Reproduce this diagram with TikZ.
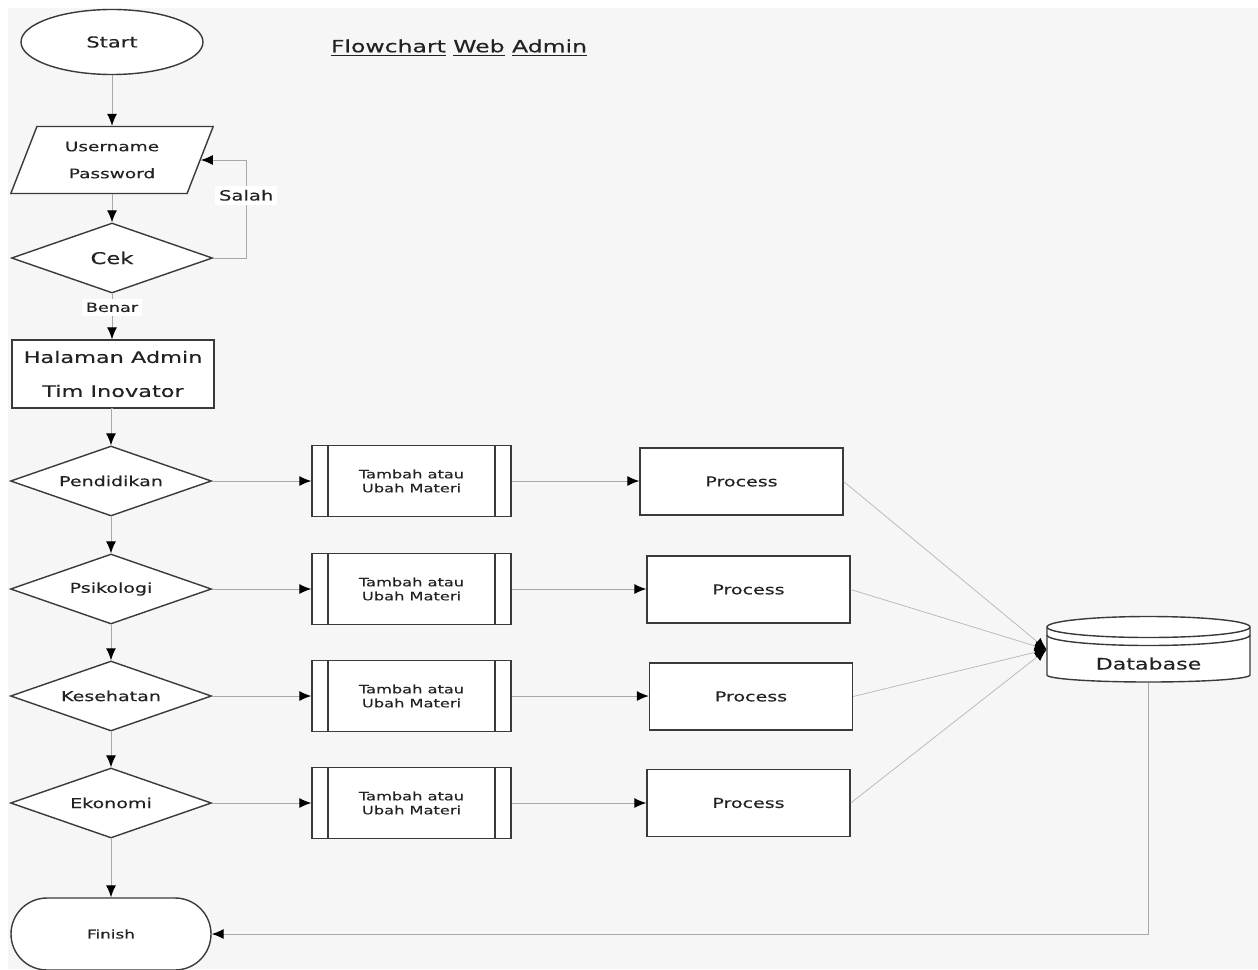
\documentclass[tikz,border=0pt]{standalone}
\usepackage{fontspec}
\setmainfont{DejaVu Sans}[FakeStretch=1.4,FakeBold=0.3]
\usepackage{tikz}
\usetikzlibrary{arrows.meta,shapes.geometric,shapes.misc}
\definecolor{bggrey}{RGB}{246,246,246}
\definecolor{edge}{RGB}{58,58,58}
\definecolor{wire}{RGB}{168,168,168}
\definecolor{ink}{RGB}{34,34,34}
\tikzset{
  shp/.style  ={draw=edge, fill=white, line width=0.7pt, text=ink, align=center, inner sep=0pt},
  term/.style ={shp, ellipse, minimum width=91pt, minimum height=32.5pt, font=\fontsize{7.5}{9}\selectfont},
  endt/.style ={shp, rounded rectangle, minimum width=100pt, minimum height=36pt, font=\fontsize{6}{8}\selectfont},
  io/.style   ={shp, trapezium, trapezium left angle=66, trapezium right angle=114, trapezium stretches=true,
                minimum width=101.5pt, minimum height=33.5pt, font=\fontsize{6.6}{13.5}\selectfont},
  dec/.style  ={shp, diamond, aspect=3, minimum width=100.5pt, minimum height=35pt, font=\fontsize{6.8}{8}\selectfont},
  blk/.style  ={shp, rectangle, minimum width=101.5pt, minimum height=33.5pt, font=\fontsize{6.8}{8}\selectfont},
  sub/.style  ={shp, rectangle, minimum width=99.5pt, minimum height=35.5pt, font=\fontsize{5.8}{7}\selectfont,
                path picture={
                  \draw[edge,line width=0.7pt] ([xshift=8pt]path picture bounding box.north west) -- ([xshift=8pt]path picture bounding box.south west);
                  \draw[edge,line width=0.7pt] ([xshift=-8pt]path picture bounding box.north east) -- ([xshift=-8pt]path picture bounding box.south east);}},
  ar/.style   ={draw=wire, line width=0.5pt, -{Latex[length=6pt,width=5pt,color=black]}},
  dbl/.style  ={draw=wire!85, line width=0.35pt, -{Latex[length=6pt,width=5pt,color=black]}},
  lbl/.style  ={fill=white, text=ink, inner sep=2pt},
}

\begin{document}
\begin{tikzpicture}[x=0.5pt,y=-0.5pt]
\useasboundingbox (0,0) rectangle (1258,969);
\fill[bggrey] (8,8) rectangle (1258,969);

% left column
\node[term] (start) at (112,42) {Start};
\node[text=ink,font=\fontsize{8.4}{10}\selectfont] (title) at (459,48) {\underline{Flowchart} \underline{Web} \underline{Admin}};
\node[io] (usr) at (112,160) {Username\\Password};
\node[dec,font=\fontsize{8.1}{10}\selectfont] (cek) at (112,258) {Cek};
\node[blk,font=\fontsize{8}{17}\selectfont,minimum width=101pt,minimum height=34pt] (adm) at (113,374) {Halaman Admin\\Tim Inovator};
\node[dec] (pend) at (111,481) {Pendidikan};
\node[dec] (psi) at (111,589) {Psikologi};
\node[dec] (kes) at (111,696) {Kesehatan};
\node[dec] (eko) at (111,803) {Ekonomi};
\node[endt] (finish) at (111,934) {Finish};

% sub processes
\node[sub] (tb1) at (411.5,481) {Tambah atau\\Ubah Materi};
\node[sub] (tb2) at (411.5,589) {Tambah atau\\Ubah Materi};
\node[sub] (tb3) at (411.5,696) {Tambah atau\\Ubah Materi};
\node[sub] (tb4) at (411.5,803) {Tambah atau\\Ubah Materi};

% processes
\node[blk] (pr1) at (741.5,481.5) {Process};
\node[blk] (pr2) at (748.5,589.5) {Process};
\node[blk] (pr3) at (751,696.5) {Process};
\node[blk] (pr4) at (748.5,803) {Process};

% database
\draw[shp] (1047,627) -- (1047,675) arc[start angle=180,end angle=360,x radius=50.75pt,y radius=3.5pt]
   -- (1250,627) arc[start angle=0,end angle=180,x radius=50.75pt,y radius=5.25pt] -- cycle;
\draw[edge,line width=0.7pt] (1047,627) arc[start angle=180,end angle=360,x radius=50.75pt,y radius=5.25pt];
\draw[edge,line width=0.7pt] (1047,635) arc[start angle=180,end angle=360,x radius=50.75pt,y radius=5.25pt];
\node[text=ink,font=\fontsize{7.9}{9}\selectfont,minimum width=101.5pt,minimum height=33.5pt,inner sep=0pt,
      text height=20pt,text depth=0pt] (db) at (1148.5,649.5) {Database};

% connectors
\draw[ar] (start.south) -- (start.south |- usr.north);
\draw[ar] (usr.south) -- (usr.south |- cek.north);
\draw[ar] (cek.east) -- ++(33,0) |- (usr.east) node[lbl,pos=0.32,font=\fontsize{7}{8}\selectfont] {Salah};
\draw[ar] (cek.south) -- (cek.south |- adm.north) node[lbl,pos=0.3,font=\fontsize{6.3}{8}\selectfont] {Benar};
\draw[ar] (adm.south) -- (adm.south -| pend.north) -- (pend.north);
\draw[ar] (pend.south) -- (psi.north);
\draw[ar] (psi.south) -- (kes.north);
\draw[ar] (kes.south) -- (eko.north);
\draw[ar] (eko.south) -- (finish.north);

\draw[ar] (pend.east) -- (tb1.west);
\draw[ar] (psi.east) -- (tb2.west);
\draw[ar] (kes.east) -- (tb3.west);
\draw[ar] (eko.east) -- (tb4.west);

\draw[ar] (tb1.east) -- (tb1.east -| pr1.west);
\draw[ar] (tb2.east) -- (tb2.east -| pr2.west);
\draw[ar] (tb3.east) -- (tb3.east -| pr3.west);
\draw[ar] (tb4.east) -- (tb4.east -| pr4.west);

\draw[dbl] (pr1.east) -- (db.west);
\draw[dbl] (pr2.east) -- (db.west);
\draw[dbl] (pr3.east) -- (db.west);
\draw[dbl] (pr4.east) -- (db.west);

\draw[ar] (db.south) |- (finish.east);
\end{tikzpicture}
\end{document}
